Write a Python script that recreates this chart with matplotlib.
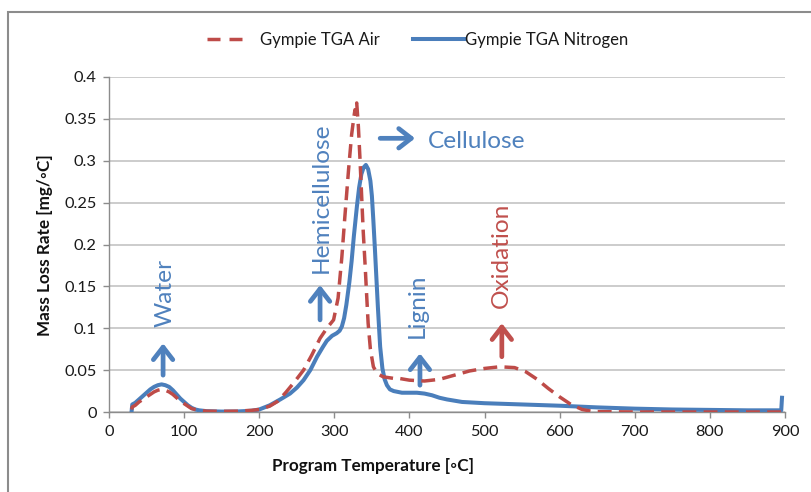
import matplotlib
matplotlib.use("Agg")
import matplotlib.pyplot as plt
from matplotlib.lines import Line2D
from matplotlib.patches import Rectangle

plt.rcParams['font.family'] = ['Lato', 'DejaVu Sans']

# Nitrogen atmosphere: temperature [C] and mass loss rate [mg/C]
temp_n2 = [30, 31, 35, 40, 45, 50, 55, 60, 65, 70, 75, 80, 85, 90, 95, 100,
           105, 110, 115, 120, 130, 150, 170, 190, 200, 214, 228, 241, 250,
           259, 268, 277, 285, 290, 297, 303, 307, 310, 313, 316, 320, 323,
           326, 330, 333, 336, 339, 342, 345, 348, 350, 352, 354, 356, 358,
           361, 364, 367, 370, 374, 379, 390, 410, 420, 430, 440, 450, 470,
           500, 550, 600, 650, 700, 750, 800, 850, 895, 896]
rate_n2 = [0.000, 0.009, 0.011, 0.015, 0.019, 0.023, 0.027, 0.030, 0.032,
           0.033, 0.032, 0.030, 0.026, 0.021, 0.016, 0.012, 0.008, 0.005,
           0.003, 0.002, 0.001, 0.0005, 0.0006, 0.0015, 0.003, 0.008, 0.015,
           0.022, 0.029, 0.038, 0.050, 0.066, 0.078, 0.085, 0.091, 0.094,
           0.097, 0.102, 0.112, 0.128, 0.155, 0.180, 0.210, 0.245, 0.268,
           0.284, 0.292, 0.295, 0.290, 0.276, 0.258, 0.228, 0.195, 0.160,
           0.125, 0.078, 0.052, 0.039, 0.032, 0.027, 0.025, 0.023, 0.023,
           0.022, 0.020, 0.017, 0.015, 0.012, 0.0105, 0.009, 0.0075, 0.0055,
           0.004, 0.003, 0.0025, 0.002, 0.002, 0.017]

# Air atmosphere
temp_air = [30, 31, 35, 40, 45, 50, 55, 60, 65, 70, 75, 80, 85, 90, 95, 100,
            105, 110, 120, 130, 150, 170, 190, 200, 214, 225, 236, 247, 259,
            270, 281, 290, 299, 305, 310, 314, 319, 323, 326, 327.5, 328.5,
            329.8, 332, 334, 336, 338.5, 341, 343, 345, 348, 352, 357, 365,
            380, 387, 400, 420, 440, 460, 480, 500, 520, 540, 555, 570, 585,
            600, 615, 630, 645, 700, 800, 900]
rate_air = [0.003, 0.006, 0.008, 0.012, 0.015, 0.018, 0.021, 0.024, 0.026,
            0.027, 0.026, 0.024, 0.021, 0.017, 0.013, 0.010, 0.007, 0.004,
            0.002, 0.001, 0.0008, 0.001, 0.002, 0.003, 0.007, 0.013, 0.024,
            0.036, 0.050, 0.068, 0.088, 0.100, 0.110, 0.136, 0.185, 0.233,
            0.290, 0.331, 0.352, 0.361, 0.356, 0.369, 0.341, 0.305, 0.265,
            0.215, 0.175, 0.140, 0.106, 0.075, 0.054, 0.046, 0.042, 0.040,
            0.040, 0.038, 0.037, 0.039, 0.044, 0.049, 0.052, 0.054, 0.053,
            0.048, 0.039, 0.028, 0.018, 0.009, 0.003, 0.0005, 0.0, 0.0, 0.0]

x_ticks = [0, 100, 200, 300, 400, 500, 600, 700, 800, 900]
y_ticks = [0, 0.05, 0.1, 0.15, 0.2, 0.25, 0.3, 0.35, 0.4]
y_tick_labels = ['0', '0.05', '0.1', '0.15', '0.2', '0.25', '0.3', '0.35', '0.4']

BLUE = '#4a7ebb'
RED = '#be4b48'
TXT_BLUE = '#4f81bd'
TXT_RED = '#c0504d'
LW_N2 = 2.9
LW_AIR = 2.5

fig = plt.figure(figsize=(8.11, 4.92), dpi=100)
ax = fig.add_axes([109 / 811, 1 - 412 / 492, (785 - 109) / 811, (412 - 77) / 492])

ax.plot(temp_n2, rate_n2, color=BLUE, lw=LW_N2, solid_joinstyle='round',
        zorder=3)
ax.plot(temp_air, rate_air, color=RED, lw=LW_AIR, dashes=(4.0, 2.1),
        dash_capstyle='butt', zorder=4)

ax.set_xlim(0, 900)
ax.set_ylim(0, 0.4)
ax.set_xticks(x_ticks)
ax.set_yticks(y_ticks)
ax.set_yticklabels(y_tick_labels)
ax.tick_params(axis='both', labelsize=11.8, colors='#8c8c8c', labelcolor='#1a1a1a',
               length=4, width=1, pad=5)
ax.grid(axis='y', color='#bebebe', lw=1.1)
ax.set_axisbelow(True)
for s in ('top', 'right'):
    ax.spines[s].set_visible(False)
for s in ('left', 'bottom'):
    ax.spines[s].set_color('#8c8c8c')
    ax.spines[s].set_linewidth(1)

fig.text(373 / 811, 1 - 466 / 492, 'Program Temperature [◦C]', ha='center',
         va='center', fontsize=12.3, fontweight='bold', color='#111111')
fig.text(45 / 811, 1 - 245 / 492, 'Mass Loss Rate [mg/◦C]', ha='center',
         va='center', rotation=90, fontsize=12.3, fontweight='bold',
         color='#111111')

# Legend
handles = [
    Line2D([], [], color=RED, lw=LW_AIR,
           dashes=(13 * 0.72 / LW_AIR, 9 * 0.72 / LW_AIR,
                   13 * 0.72 / LW_AIR, 16 * 0.72 / LW_AIR),
           dash_capstyle='butt'),
    Line2D([], [], color=BLUE, lw=LW_N2),
]
fig.legend(handles, ['Gympie TGA Air', 'Gympie TGA Nitrogen'], loc='center',
           bbox_to_anchor=(418 / 811, 1 - 40 / 492), ncol=2, frameon=False,
           fontsize=12, handlelength=3.05, handletextpad=0.1,
           columnspacing=2.0, labelcolor='#1a1a1a')

# Decomposition stage annotations
arrow_kw = dict(arrowstyle='->, head_length=0.45, head_width=0.35', lw=3.4,
                shrinkA=0, shrinkB=0, mutation_scale=20)
fs = 17.6

ax.annotate('', xy=(72, 0.082), xytext=(72, 0.044),
            arrowprops=dict(color=TXT_BLUE, **arrow_kw))
ax.text(74.6, 0.1015, 'Water', rotation=90, ha='center', va='bottom',
        fontsize=fs, color=TXT_BLUE)

ax.annotate('', xy=(281, 0.1516), xytext=(281, 0.110),
            arrowprops=dict(color=TXT_BLUE, **arrow_kw))
ax.text(283, 0.1655, 'Hemicellulose', rotation=90, ha='center', va='bottom',
        fontsize=fs, color=TXT_BLUE)

ax.annotate('', xy=(407.5, 0.3268), xytext=(361, 0.3268),
            arrowprops=dict(color=TXT_BLUE, **arrow_kw))
ax.text(425, 0.3148, 'Cellulose', ha='left', va='baseline', fontsize=fs,
        color=TXT_BLUE)

ax.annotate('', xy=(414, 0.070), xytext=(414, 0.032),
            arrowprops=dict(color=TXT_BLUE, **arrow_kw))
ax.text(410.5, 0.088, 'Lignin', rotation=90, ha='center', va='bottom',
        fontsize=fs, color=TXT_BLUE)

ax.annotate('', xy=(523, 0.106), xytext=(523, 0.066),
            arrowprops=dict(color=TXT_RED, **arrow_kw))
ax.text(523, 0.124, 'Oxidation', rotation=90, ha='center', va='bottom',
        fontsize=fs, color=TXT_RED)

# Outer chart frame (left and top edges visible)
fig.patches.append(Rectangle((8 / 811, -0.1), 1.5, 1.1 - 12 / 492,
                             transform=fig.transFigure, fill=False,
                             edgecolor='#8c8c8c', lw=1.5, clip_on=False))

fig.savefig('out.png', dpi=100)
